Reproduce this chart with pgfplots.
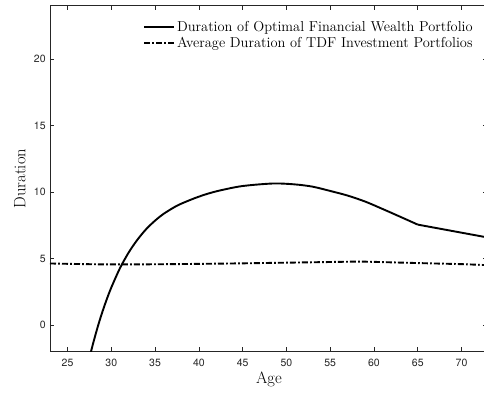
\documentclass[border=0pt]{standalone}
\usepackage{fontspec}
\usepackage{pgfplots}
\pgfplotsset{compat=1.18}
\newfontfamily\heros{TeX Gyre Heros}
\definecolor{axgray}{rgb}{0.15,0.15,0.15}

% Duration of the optimal financial wealth portfolio (smooth part, up to retirement)
\pgfplotstableread{
age dur
27.3 -3.03
27.68 -2.00
28.0 -1.19
28.5 -0.02
29.0 1.03
29.5 1.97
30.0 2.82
31.0 4.29
32.0 5.47
33.0 6.43
34.0 7.22
35.0 7.85
36.0 8.37
37.5 8.97
39.0 9.40
40.0 9.65
41.0 9.87
42.5 10.13
45.0 10.45
48.5 10.64
51.0 10.57
53.0 10.40
55.0 10.08
57.0 9.73
59.0 9.28
61.0 8.72
63.0 8.14
65.0 7.55
}\optimalpre

% After retirement
\pgfplotstableread{
age dur
65.0 7.55
73.0 6.58
}\optimalpost

% Average duration of TDF investment portfolios
\pgfplotstableread{
age dur
23 4.63
27 4.58
30 4.56
35 4.57
40 4.60
45 4.64
50 4.69
55 4.74
58 4.77
60 4.75
65 4.66
70 4.58
73 4.50
}\tdf

\begin{document}
\begin{tikzpicture}
\begin{axis}[
  scale only axis,
  width=437.8pt, height=346pt,
  xmin=23, xmax=73, ymin=-2, ymax=24,
  xtick={25,30,...,70}, ytick={0,5,...,20},
  tick align=inside,
  major tick length=4.4pt,
  axis line style={axgray, line width=0.6pt},
  tick style={axgray, line width=0.6pt},
  ticklabel style={font=\heros\fontsize{10.5}{12}\selectfont, text=axgray},
  xticklabel style={anchor=center, yshift=-11.6pt},
  yticklabel style={xshift=-0.8pt},
  /pgf/number format/assume math mode=true,
  xlabel={Age}, ylabel={Duration},
  label style={font=\fontsize{16.5}{19}\selectfont},
  xlabel style={at={(axis description cs:0.5,-0.0919)}, anchor=base},
  ylabel style={at={(axis description cs:-0.0692,0.5)}, anchor=center},
  legend style={draw=none, fill=none, at={(axis description cs:0.2056,0.9675)},
    anchor=north west, font=\fontsize{14.4}{16}\selectfont, row sep=0pt},
  legend cell align=left,
  legend image code/.code={\draw[#1] (0pt,0pt) -- (30pt,0pt);},
]
\addplot[black, line width=1.9pt, smooth] table[x=age, y=dur] {\optimalpre};
\addlegendentry{Duration of Optimal Financial Wealth Portfolio}
\addplot[black, line width=1.9pt, dash pattern=on 6pt off 2.2pt on 1.6pt off 2.2pt, smooth]
  table[x=age, y=dur] {\tdf};
\addlegendentry{Average Duration of TDF Investment Portfolios}
\addplot[black, line width=1.9pt, forget plot] table[x=age, y=dur] {\optimalpost};
\coordinate (sw) at (rel axis cs:0,0);
\coordinate (ne) at (rel axis cs:1,1);
\end{axis}
\pgfresetboundingbox
\path[use as bounding box] ([shift={(-50pt,-42.3pt)}]sw) rectangle ([shift={(-3.8pt,5.7pt)}]ne);
\end{tikzpicture}
\end{document}
